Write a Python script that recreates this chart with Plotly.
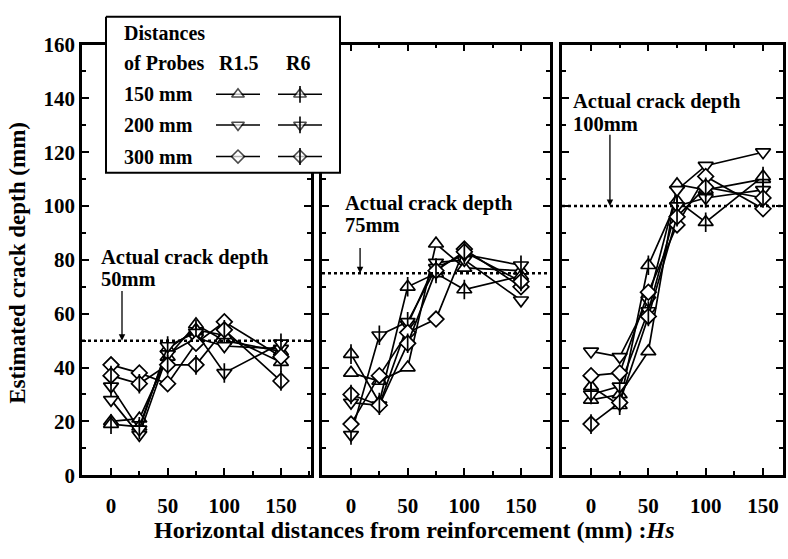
import plotly.graph_objects as go

# ---------------- data ----------------
x_hs = [0, 25, 50, 75, 100, 150]
actual_depth = [50, 75, 100]
actual_labels = ["50mm", "75mm", "100mm"]
probe_distances = ["150 mm", "200 mm", "300 mm"]
probe_types = ["R1.5", "R6"]

# panel 1 (actual crack depth 50 mm)
p1_r15_150 = [20, 21, 44, 56, 50, 46]
p1_r6_150 = [19, 18, 47, 54, 52, 42]
p1_r15_200 = [28, 15, 45, 51, 48, 47]
p1_r6_200 = [33, 17, 48, 53, 38, 49]
p1_r15_300 = [41, 38, 34, 49, 57, 44]
p1_r6_300 = [37, 34, 41, 41, 54, 35]

# panel 2 (actual crack depth 75 mm)
p2_r15_150 = [38, 35, 40, 86, 77, 76]
p2_r6_150 = [45, 27, 70, 75, 69, 74]
p2_r15_200 = [27, 26, 56, 79, 80, 65]
p2_r6_200 = [15, 52, 57, 77, 82, 78]
p2_r15_300 = [19, 37, 53, 58, 84, 70]
p2_r6_300 = [30, 26, 49, 76, 83, 72]

# panel 3 (actual crack depth 100 mm)
p3_r15_150 = [28, 30, 46, 108, 106, 110]
p3_r6_150 = [33, 26, 78, 102, 94, 111]
p3_r15_200 = [46, 44, 65, 106, 115, 120]
p3_r6_200 = [30, 33, 61, 100, 103, 106]
p3_r15_300 = [37, 38, 68, 93, 111, 99]
p3_r6_300 = [19, 27, 59, 96, 107, 103]

panels = [
    [p1_r15_150, p1_r6_150, p1_r15_200, p1_r6_200, p1_r15_300, p1_r6_300],
    [p2_r15_150, p2_r6_150, p2_r15_200, p2_r6_200, p2_r15_300, p2_r6_300],
    [p3_r15_150, p3_r6_150, p3_r15_200, p3_r6_200, p3_r15_300, p3_r6_300],
]

# ---------------- style ----------------
W, H = 788, 559
FONT = "Liberation Serif"
symbols = {"150 mm": "triangle-up", "200 mm": "triangle-down", "300 mm": "diamond"}
sizes = {"150 mm": 13, "200 mm": 13, "300 mm": 12}

def px_x(p):
    return p / W

def px_y(p):
    return 1 - p / H

xdomains = [[px_x(82), px_x(311)], [px_x(322), px_x(550)], [px_x(562), px_x(783)]]
xranges = [[-25.6, 176.5], [-25.6, 175.6], [-25.3, 167.4]]
ydomain = [px_y(484), px_y(34)]

fig = go.Figure()

for pi, series in enumerate(panels):
    xa = "x" if pi == 0 else f"x{pi + 1}"
    ya = "y" if pi == 0 else f"y{pi + 1}"
    k = 0
    for dist in probe_distances:
        for ptype in probe_types:
            vals = series[k]
            k += 1
            fig.add_trace(go.Scatter(
                x=x_hs, y=vals, xaxis=xa, yaxis=ya, mode="lines+markers",
                line=dict(color="black", width=1.7),
                marker=dict(symbol=symbols[dist], size=sizes[dist], color="white",
                            line=dict(color="black", width=1.7)),
                showlegend=False, hoverinfo="skip"))
            if ptype == "R6":
                fig.add_trace(go.Scatter(
                    x=x_hs, y=vals, xaxis=xa, yaxis=ya, mode="markers",
                    marker=dict(symbol="line-ns", size=14, color="black",
                                line=dict(color="black", width=1.7)),
                    showlegend=False, hoverinfo="skip"))

# ---------------- legend (drawn on a hidden pixel-space axis) ----------------
box_l, box_r, box_t, box_b = 106, 340, 5, 168
fig.add_trace(go.Scatter(
    x=[box_l, box_r, box_r, box_l, box_l], y=[box_t, box_t, box_b, box_b, box_t],
    xaxis="x4", yaxis="y4", mode="lines", fill="toself", fillcolor="white",
    line=dict(color="black", width=2), showlegend=False, hoverinfo="skip"))

row_y = [86, 118, 151]
col_x = [238, 300]
half = 22
for ri, dist in enumerate(probe_distances):
    for ci, ptype in enumerate(probe_types):
        cx, cy = col_x[ci], row_y[ri]
        fig.add_trace(go.Scatter(
            x=[cx - half, cx, cx + half], y=[cy, cy, cy], xaxis="x4", yaxis="y4",
            mode="lines+markers", line=dict(color="black", width=1.6),
            marker=dict(symbol=symbols[dist], size=[0, sizes[dist] - 2, 0], color="white",
                        line=dict(color="black", width=1.6)),
            showlegend=False, hoverinfo="skip"))
        if ptype == "R6":
            fig.add_trace(go.Scatter(
                x=[cx], y=[cy], xaxis="x4", yaxis="y4", mode="markers",
                marker=dict(symbol="line-ns", size=12, color="black",
                            line=dict(color="black", width=1.6)),
                showlegend=False, hoverinfo="skip"))

annotations = []
def leg_text(txt, x, y, anchor="left"):
    annotations.append(dict(text=txt, x=x, y=y, xref="x4", yref="y4", showarrow=False,
                            xanchor=anchor, yanchor="middle", borderpad=0,
                            font=dict(family=FONT, size=20, color="black", weight="bold")))

leg_text("Distances", 123, 22)
leg_text("of Probes", 123, 53)
leg_text(probe_types[0], 238, 53, "center")
leg_text(probe_types[1], 298, 53, "center")
for ri, dist in enumerate(probe_distances):
    leg_text(dist, 123, row_y[ri])

# ---------------- actual depth lines & labels ----------------
shapes = []
text_pos = [(100, 256, 279), (344, 200, 223), (572, 94, 117)]
arrow_pos = [(9.7, 69), (8, 85), (16.5, 127)]
for pi in range(3):
    xa = "x" if pi == 0 else f"x{pi + 1}"
    ya = "y" if pi == 0 else f"y{pi + 1}"
    shapes.append(dict(type="line", xref=f"{xa} domain", yref=ya, x0=0, x1=1,
                       y0=actual_depth[pi], y1=actual_depth[pi],
                       line=dict(color="black", width=2.5, dash="dot")))
    tx, ty1, ty2 = text_pos[pi]
    for txt, ty in (("Actual crack depth", ty1), (actual_labels[pi], ty2)):
        annotations.append(dict(text=txt, x=px_x(tx), y=px_y(ty), xref="paper", yref="paper",
                                showarrow=False, xanchor="left", yanchor="middle", borderpad=0,
                                font=dict(family=FONT, size=20.5, color="black", weight="bold")))
    ax_, ay_ = arrow_pos[pi]
    annotations.append(dict(text="", x=ax_, y=actual_depth[pi], xref=xa, yref=ya,
                            ax=ax_, ay=ay_, axref=xa, ayref=ya, showarrow=True,
                            arrowhead=2, arrowsize=1, arrowwidth=1.3, arrowcolor="black"))

# axis titles
annotations.append(dict(text="Estimated crack depth (mm)", x=px_x(18), y=px_y(262),
                        xref="paper", yref="paper", showarrow=False, textangle=-90,
                        xanchor="center", yanchor="middle",
                        font=dict(family=FONT, size=23, color="black", weight="bold")))
annotations.append(dict(text="Horizontal distances from reinforcement (mm) :<i>Hs</i>",
                        x=px_x(414), y=px_y(541), xref="paper", yref="paper",
                        showarrow=False, xanchor="center", yanchor="middle",
                        font=dict(family=FONT, size=24, color="black", weight="bold")))

tickfont = dict(family=FONT, size=21, color="black", weight="bold")
common_x = dict(showline=True, linecolor="black", linewidth=2.5, mirror="ticks",
                ticks="inside", ticklen=7, tickwidth=2, tickcolor="black",
                tick0=0, dtick=50, showgrid=False, zeroline=False, tickfont=tickfont,
                ticklabelstandoff=10,
                minor=dict(dtick=25, tick0=0, ticks="inside", ticklen=4, tickwidth=2,
                           tickcolor="black", showgrid=False))
common_y = dict(showline=True, linecolor="black", linewidth=2.5, mirror="ticks",
                ticks="inside", ticklen=7, tickwidth=2, tickcolor="black",
                range=[0, 160], tick0=0, dtick=20, showgrid=False, zeroline=False,
                tickfont=tickfont, domain=ydomain,
                minor=dict(dtick=10, tick0=0, ticks="inside", ticklen=4, tickwidth=2,
                           tickcolor="black", showgrid=False))

layout = dict(
    width=W, height=H, margin=dict(l=0, r=0, t=0, b=0),
    paper_bgcolor="white", plot_bgcolor="rgba(0,0,0,0)",
    showlegend=False, annotations=annotations, shapes=shapes,
    xaxis4=dict(domain=[0, 1], range=[0, W], visible=False, anchor="y4", fixedrange=True),
    yaxis4=dict(domain=[0, 1], range=[H, 0], visible=False, anchor="x4", fixedrange=True),
)
for pi in range(3):
    xk = "xaxis" if pi == 0 else f"xaxis{pi + 1}"
    yk = "yaxis" if pi == 0 else f"yaxis{pi + 1}"
    xa = dict(common_x, domain=xdomains[pi], range=xranges[pi],
              anchor="y" if pi == 0 else f"y{pi + 1}")
    ya = dict(common_y, anchor="x" if pi == 0 else f"x{pi + 1}",
              showticklabels=(pi == 0))
    layout[xk] = xa
    layout[yk] = ya

fig.update_layout(**layout)
fig.write_html("out.html", config={"displayModeBar": False},
               post_script="document.body.style.margin='0px';document.body.style.overflow='hidden';")
